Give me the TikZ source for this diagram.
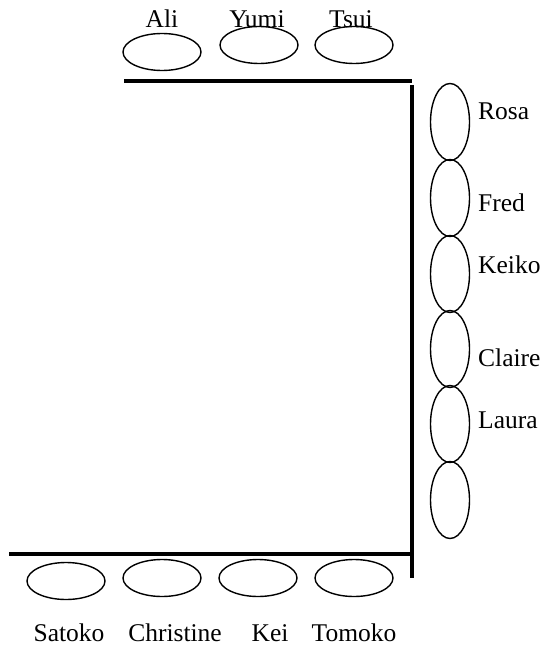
\documentclass[tikz,border=0pt]{standalone}
\usepackage{fontspec}
\setmainfont{Liberation Serif}
\usetikzlibrary{shapes.geometric}
\tikzset{
  seat/.style={draw,ellipse,line width=1.4pt,inner sep=0pt,minimum width=78pt,minimum height=37pt},
  sideseat/.style={seat,minimum width=39pt,minimum height=77pt},
  guest/.style={inner sep=0pt,font=\fontsize{25.5}{28}\selectfont},
  table/.style={line width=4.5pt,line cap=butt}
}
\begin{document}
\begin{tikzpicture}[x=1pt,y=-1pt]
  \useasboundingbox (0,0) rectangle (547,647);
  % table edges
  \coordinate (topL) at (124,81);
  \coordinate (topR) at (412,81);
  \coordinate (sideT) at (412,85);
  \coordinate (sideB) at (412,578);
  \coordinate (botL) at (9,554);
  \coordinate (botR) at (412,554);
  \draw[table] (topL) -- (topR);
  \draw[table] (sideT) -- (sideB);
  \draw[table] (botL) -- (botR);
  % top seats
  \node[seat] (ali) at (162,52) {};
  \node[seat] (yumi) at (259,45) {};
  \node[seat] (tsui) at (354,45) {};
  \node[guest,anchor=base] (aliname) at (162,28) {Ali};
  \node[guest,anchor=base] (yuminame) at (257,28) {Yumi};
  \node[guest,anchor=base] (tsuiname) at (351,28) {Tsui};
  % side seats
  \node[sideseat] (rosa) at (450,122) {};
  \node[sideseat] (fred) at (450,198) {};
  \node[sideseat] (keiko) at (450,274) {};
  \node[sideseat] (claire) at (450,349) {};
  \node[sideseat] (laura) at (450,424) {};
  \node[sideseat] (empty) at (450,500) {};
  \node[guest,anchor=base west] (rosaname) at (478,120) {Rosa};
  \node[guest,anchor=base west] (fredname) at (478,211) {Fred};
  \node[guest,anchor=base west] (keikoname) at (478,273) {Keiko};
  \node[guest,anchor=base west] (clairename) at (478,366) {Claire};
  \node[guest,anchor=base west] (lauraname) at (478,428) {Laura};
  % bottom seats
  \node[seat] (satoko) at (66,581) {};
  \node[seat] (christine) at (162,578) {};
  \node[seat] (kei) at (258,578) {};
  \node[seat] (tomoko) at (354,578) {};
  \node[guest,anchor=base] (satokoname) at (69,641) {Satoko};
  \node[guest,anchor=base] (christinename) at (175,641) {Christine};
  \node[guest,anchor=base] (keiname) at (270,641) {Kei};
  \node[guest,anchor=base] (tomokoname) at (354,641) {Tomoko};
\end{tikzpicture}
\end{document}
